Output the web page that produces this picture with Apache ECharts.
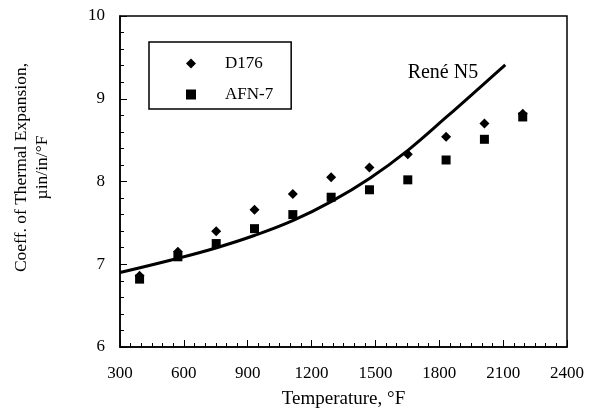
<!DOCTYPE html>
<html>
<head>
<meta charset="utf-8">
<script src="https://cdn.jsdelivr.net/npm/echarts@6/dist/echarts.min.js"></script>
<style>
  html, body { margin: 0; padding: 0; background: #fff; }
  #chart { width: 598px; height: 412px; }
</style>
</head>
<body>
<div id="chart"></div>
<script>
// temperatures (°F) for the measured points, 200..1200 °C
const temps = [392, 572, 752, 932, 1112, 1292, 1472, 1652, 1832, 2012, 2192];
const d176 = [6.86, 7.15, 7.40, 7.66, 7.85, 8.05, 8.17, 8.33, 8.54, 8.70, 8.82];
const afn7 = [6.82, 7.09, 7.25, 7.43, 7.60, 7.81, 7.90, 8.02, 8.26, 8.51, 8.78];

// René N5 curve
const reneT = [300, 569, 754, 934, 1114, 1294, 1474, 1654, 1834, 2014, 2110];
const reneV = [6.90, 7.07, 7.20, 7.35, 7.53, 7.76, 8.04, 8.38, 8.78, 9.19, 9.41];

const xTicks = [300, 600, 900, 1200, 1500, 1800, 2100, 2400];
const yTicks = [6, 7, 8, 9, 10];

const font = 'Liberation Serif, Times New Roman, serif';
const zip = (a, b) => a.map((v, i) => [v, b[i]]);

const chart = echarts.init(document.getElementById('chart'));

chart.setOption({
    animation: false,
    backgroundColor: '#fff',
    grid: {
        left: 120, right: 31, top: 16, bottom: 65,
        outerBoundsMode: 'none', containLabel: false,
        show: true, borderColor: '#000', borderWidth: 1.5
    },
    legend: {
        data: ['D176', 'AFN-7'],
        orient: 'vertical',
        left: 149, top: 42,
        padding: [13, 18, 6, 37],
        itemWidth: 10, itemHeight: 10, itemGap: 14,
        borderColor: '#000', borderWidth: 1.5,
        textStyle: { fontFamily: font, fontSize: 17, color: '#000', padding: [0, 0, 0, 24] }
    },
    xAxis: {
        type: 'value',
        min: xTicks[0], max: xTicks[xTicks.length - 1], interval: 300,
        name: 'Temperature, °F',
        nameLocation: 'middle', nameGap: 43,
        nameTextStyle: { fontFamily: font, fontSize: 19, color: '#000' },
        axisLine: { lineStyle: { color: '#000', width: 1.5 } },
        axisTick: { inside: true, length: 7, lineStyle: { color: '#000' } },
        minorTick: { show: true, splitNumber: 6, length: 4, lineStyle: { color: '#000' } },
        axisLabel: { fontFamily: font, fontSize: 17, color: '#000', margin: 18, formatter: v => String(v) },
        splitLine: { show: false }
    },
    yAxis: {
        type: 'value',
        min: yTicks[0], max: yTicks[yTicks.length - 1], interval: 1,
        name: 'Coeff. of Thermal Expansion,\nµin/in/°F',
        nameLocation: 'middle', nameGap: 67, nameRotate: 90,
        nameTextStyle: { fontFamily: font, fontSize: 17.5, color: '#000', lineHeight: 21, padding: [0, 0, 0, 28] },
        axisLine: { lineStyle: { color: '#000', width: 1.5 } },
        axisTick: { inside: true, length: 7, lineStyle: { color: '#000' } },
        minorTick: { show: true, splitNumber: 5, length: 4, lineStyle: { color: '#000' } },
        axisLabel: { fontFamily: font, fontSize: 17, color: '#000', margin: 15 },
        splitLine: { show: false }
    },
    series: [
        {
            name: 'René N5',
            type: 'line',
            data: zip(reneT, reneV),
            smooth: 0.4,
            showSymbol: false,
            lineStyle: { color: '#000', width: 3 },
            markPoint: {
                symbol: 'circle',
                symbolSize: 1,
                itemStyle: { color: 'rgba(0,0,0,0)' },
                label: { show: true, position: 'inside', formatter: 'René N5', fontFamily: font, fontSize: 20, color: '#000' },
                data: [{ coord: [1817, 9.31] }]
            },
            z: 3
        },
        {
            name: 'D176',
            type: 'scatter',
            data: zip(temps, d176),
            symbol: 'diamond',
            symbolSize: 10,
            itemStyle: { color: '#000', opacity: 1 },
            z: 4
        },
        {
            name: 'AFN-7',
            type: 'scatter',
            data: zip(temps, afn7),
            symbol: 'rect',
            symbolSize: 9,
            itemStyle: { color: '#000', opacity: 1 },
            z: 4
        }
    ]
});
</script>
</body>
</html>
